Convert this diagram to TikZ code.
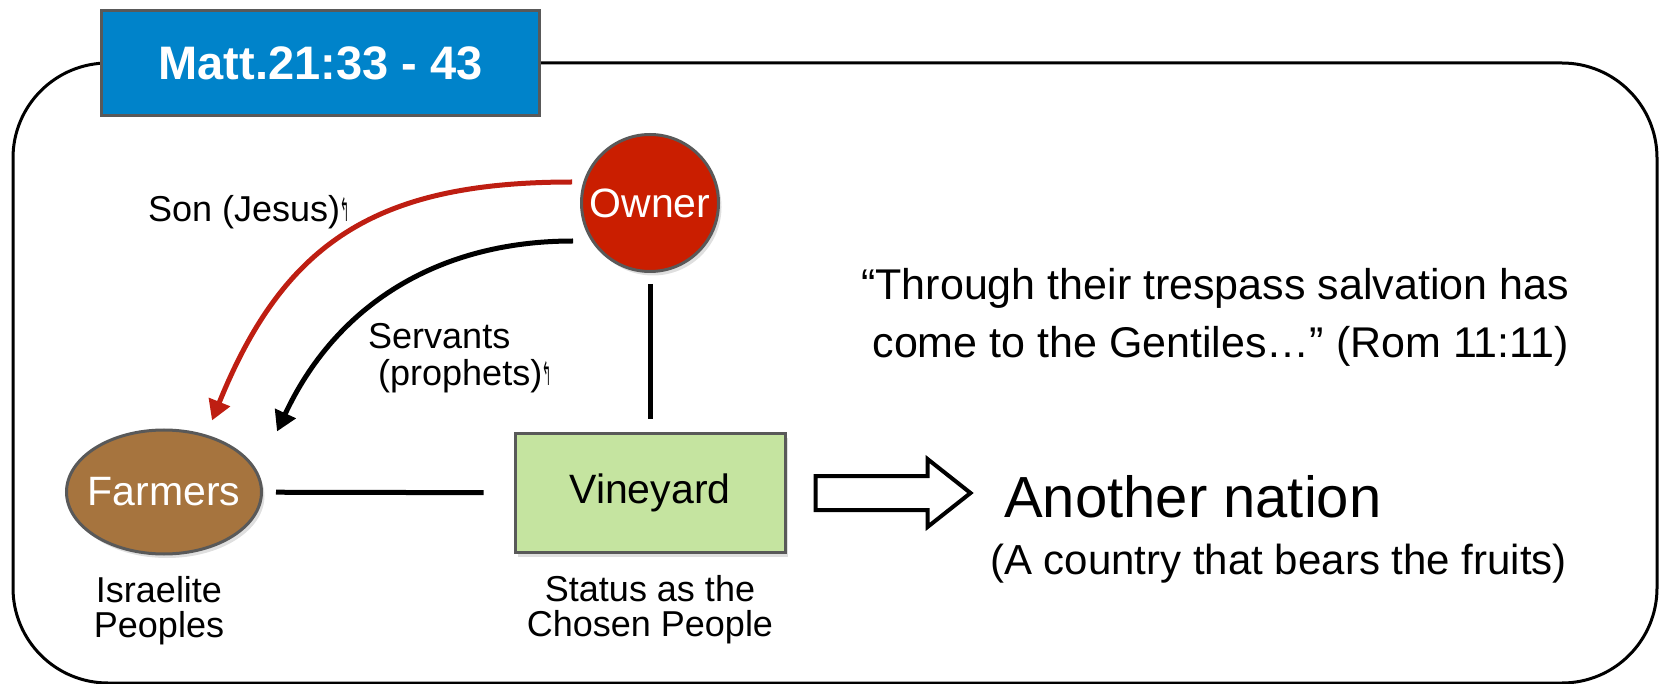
\documentclass[tikz,border=0pt]{standalone}
\usepackage{fontspec}
\setmainfont{Liberation Sans}
\newfontfamily\arrowfont{DejaVu Sans}
\usetikzlibrary{positioning, calc, shadows, shapes.geometric, arrows.meta}
\definecolor{titleblue}{RGB}{0, 131, 202}
\definecolor{ownerred}{RGB}{202, 30, 0}
\definecolor{farmbrown}{RGB}{166, 116, 62}
\definecolor{vinegreen}{RGB}{197, 228, 160}
\definecolor{edgegray}{RGB}{89, 89, 89}
\definecolor{sonred}{RGB}{190, 30, 18}
\newcommand{\retmark}{{\arrowfont\scalebox{0.3}[0.9]{↰}}}

\tikzset{
  shapebox/.style={draw=edgegray, line width=3pt,
    drop shadow={shadow xshift=3pt, shadow yshift=-4pt, opacity=0.25}},
  whitelabel/.style={text=white, font=\fontsize{41}{48}\selectfont},
  plainlabel/.style={font=\fontsize{36}{35}\selectfont, align=center, inner sep=0pt},
  link/.style={line width=5pt},
  sendarrow/.style={line width=5pt, -{Triangle[length=20pt, width=22pt]}}
}

\begin{document}
\begin{tikzpicture}[x=1pt, y=1pt]
  \useasboundingbox (0,0) rectangle (1660,-684);
  % outer frame
  \draw[line width=3pt, rounded corners=95pt] (13,-63) rectangle (1657,-683);

  \node[draw=edgegray, fill=titleblue, line width=3pt, minimum width=438pt, minimum height=105pt,
        text=white, font=\bfseries\fontsize{47}{52}\selectfont] (title) at (320.5,-63) {Matt.21:33 - 43};

  % people and places
  \node[shapebox, circle, fill=ownerred, minimum size=137pt, whitelabel] (owner) at (650,-203) {Owner};
  \node[shapebox, ellipse, fill=farmbrown, minimum width=195pt, minimum height=124pt, inner sep=0pt, whitelabel] (farmers) at (164,-492) {\makebox[0pt]{Farmers}};
  \node[shapebox, rectangle, fill=vinegreen, minimum width=270pt, minimum height=119pt, font=\fontsize{41}{48}\selectfont] (vineyard) at (650,-493) {Vineyard};

  \node[plainlabel, below=21pt of farmers, xshift=-5pt] (israel) {Israelite\\Peoples};
  \node[plainlabel, below=21pt of vineyard] (status) {Status as the\\Chosen People};

  \draw[link, shorten <=13pt, shorten >=30pt] (farmers) -- (vineyard);
  \draw[link, shorten <=11pt, shorten >=13pt] (owner) -- (vineyard);

  % sent to the farmers
  \draw[sendarrow, sonred] ([shift={(-8,21)}]owner.west) to[out=180, in=68, looseness=1.15] ([shift={(48,8)}]farmers.north);
  \draw[sendarrow] ([shift={(-7,-38)}]owner.west) to[out=180, in=65] ([shift={(113,-3)}]farmers.north);
  \node[anchor=west, inner sep=0pt, font=\fontsize{36}{40}\selectfont] (son) at (148,-212) {Son (Jesus)\retmark};
  \node[anchor=west, inner sep=0pt, align=left, font=\fontsize{36}{37}\selectfont] (servants) at (368,-358) {Servants\\ \ (prophets)\retmark};

  \node[anchor=east, inner sep=0pt, align=right, font=\fontsize{43}{58}\selectfont] (quote) at (1569,-317)
    {“Through their trespass salvation has\\come to the Gentiles…” (Rom 11:11)};

  % vineyard given away
  \coordinate (nationtail) at ([xshift=29pt]vineyard.east);
  \draw[line width=4pt, miter limit=10] (nationtail) ++(0,17) -- ++(112,0) -- ++(0,17) -- ++(43,-34)
    -- ++(-43,-34) -- ++(0,17) -- ++(-112,0) -- cycle;
  \node[anchor=west, inner sep=0pt, font=\fontsize{58}{64}\selectfont] (nation) at (1004,-497) {Another nation};
  \node[anchor=east, inner sep=0pt, font=\fontsize{42}{48}\selectfont] (fruits) at (1567,-564) {(A country that bears the fruits)};
\end{tikzpicture}
\end{document}
